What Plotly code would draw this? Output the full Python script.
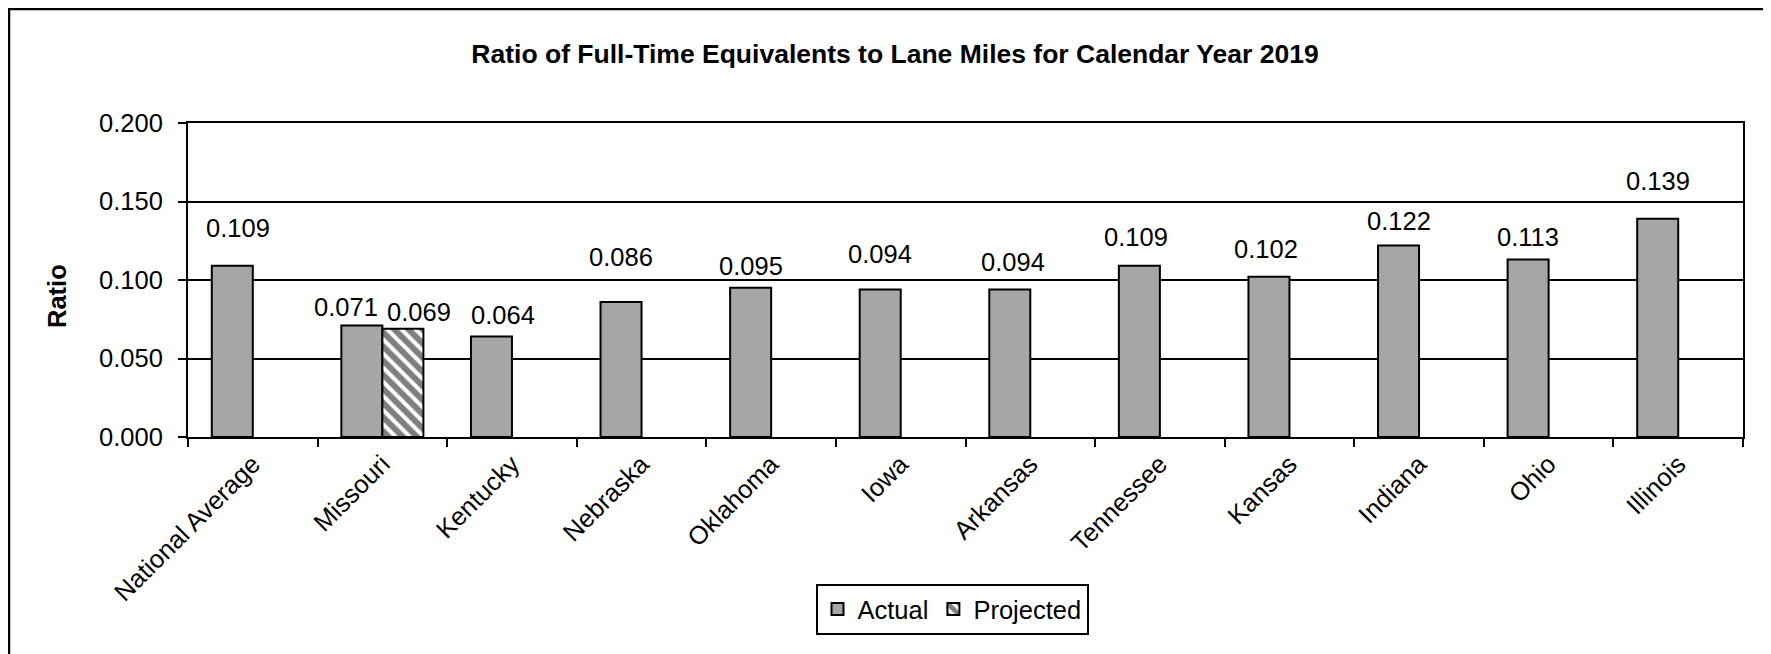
import plotly.graph_objects as go

# ---- data ----
categories = ["National Average", "Missouri", "Kentucky", "Nebraska", "Oklahoma", "Iowa",
              "Arkansas", "Tennessee", "Kansas", "Indiana", "Ohio", "Illinois"]
actual = [0.109, 0.071, 0.064, 0.086, 0.095, 0.094, 0.094, 0.109, 0.102, 0.122, 0.113, 0.139]
projected = [None, 0.069, None, None, None, None, None, None, None, None, None, None]
y_ticks = [0.000, 0.050, 0.100, 0.150, 0.200]
title_text = "Ratio of Full-Time Equivalents to Lane Miles for Calendar Year 2019"

# ---- style / layout (page pixel targets; the page body adds an 8px margin) ----
FONT = "Liberation Sans, Arial, sans-serif"
FS = 25.5
PAGE_W, PAGE_H = 1771, 654
OFF = 8
FW, FH = PAGE_W - OFF, PAGE_H - OFF
PLOT_L, PLOT_R, PLOT_T, PLOT_B = 188, 1743, 123, 437
ML, MR = PLOT_L - OFF, PAGE_W - PLOT_R
MT, MB = PLOT_T - OFF, PAGE_H - PLOT_B
plot_w = PLOT_R - PLOT_L
plot_h = PLOT_B - PLOT_T
BARGAP = 0.367
bar_w = plot_w / len(categories) * (1 - BARGAP) / 2


def cx(px):
    return (px - OFF) / FW


def cy(py):
    return 1 - (py - OFF) / FH


def px_x(px):
    return (px - PLOT_L) / plot_w


def px_y(py):
    return (PLOT_B - py) / plot_h


# label placement relative to its bar (px)
actual_lift = [38, 19, 22, 45, 22, 35, 27, 29, 28, 24, 23, 38]
actual_dx = [6, -16, 12, 0, 0, 0, 3, -3, -3, 0, 0, 0]
projected_lift = 17
projected_dx = 16

fig = go.Figure()
fig.add_trace(go.Bar(
    x=categories, y=actual, name="Actual",
    marker=dict(color="#A6A6A6", line=dict(color="black", width=2)),
))
fig.add_trace(go.Bar(
    x=categories, y=projected, name="Projected",
    marker=dict(color="white", line=dict(color="black", width=2),
                pattern=dict(shape="\\", fgcolor="black", bgcolor="white",
                             size=10, solidity=0.6)),
))

lab_font = dict(family=FONT, size=FS, color="black")
annotations = []
for c, v, lift, dx in zip(categories, actual, actual_lift, actual_dx):
    annotations.append(dict(x=c, y=v, xref="x", yref="y", text=f"{v:.3f}",
                            showarrow=False, xshift=-bar_w / 2 + dx, yshift=lift,
                            xanchor="center", yanchor="middle", font=lab_font))
for c, v in zip(categories, projected):
    if v is not None:
        annotations.append(dict(x=c, y=v, xref="x", yref="y", text=f"{v:.3f}",
                                showarrow=False, xshift=bar_w / 2 + projected_dx,
                                yshift=projected_lift, xanchor="center", yanchor="middle",
                                font=lab_font))
# y-axis title
annotations.append(dict(x=px_x(57), y=px_y(296), xref="paper", yref="paper",
                        text="<b>Ratio</b>", showarrow=False, textangle=-90,
                        xanchor="center", yanchor="middle", font=lab_font))

fig.update_layout(
    width=FW, height=FH,
    margin=dict(l=ML, r=MR, t=MT, b=MB, autoexpand=False),
    paper_bgcolor="white", plot_bgcolor="white",
    font=dict(family=FONT, size=FS, color="black"),
    barmode="group", bargap=BARGAP, bargroupgap=0,
    title=dict(text=title_text, x=cx(895), xref="container", xanchor="center",
               y=cy(54), yref="container", yanchor="middle",
               font=dict(family=FONT, size=26.5, color="black", weight="bold")),
    xaxis=dict(type="category", tickangle=-45, tickson="boundaries", ticks="outside",
               ticklen=8, tickwidth=2, tickcolor="black", showline=True, linecolor="black",
               linewidth=2, mirror=True, showgrid=False, automargin=False,
               tickfont=lab_font),
    yaxis=dict(range=[0, 0.2], tickvals=y_ticks, tickformat=".3f", ticks="outside",
               ticklen=8, tickwidth=2, tickcolor="black", showline=True, linecolor="black",
               linewidth=2, mirror=True, showgrid=True, gridcolor="black", gridwidth=2,
               zeroline=False, automargin=False, ticklabelstandoff=10,
               tickfont=lab_font),
    legend=dict(orientation="h", x=cx(952), xref="container", xanchor="center",
                y=cy(609.5), yref="container", yanchor="middle",
                bordercolor="black", borderwidth=2, bgcolor="white",
                font=lab_font, itemwidth=30, tracegroupgap=0),
    annotations=annotations,
    shapes=[dict(type="rect", xref="paper", yref="paper",
                 x0=px_x(OFF + 1), x1=px_x(PAGE_W + 10),
                 y0=px_y(PAGE_H + 10), y1=px_y(OFF + 1),
                 line=dict(color="black", width=2.5), fillcolor="rgba(0,0,0,0)",
                 layer="below")],
)

fig.write_html("out.html")
